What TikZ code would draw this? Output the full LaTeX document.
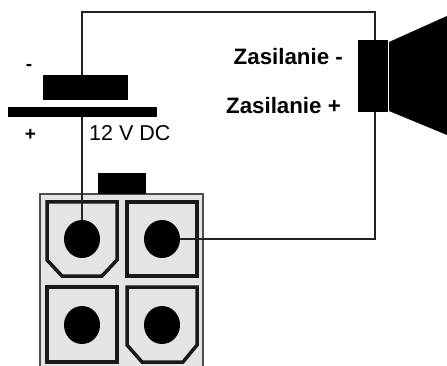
\documentclass[tikz,border=0pt]{standalone}
\usepackage{fontspec}
\setmainfont{Liberation Sans}
\usetikzlibrary{shapes.geometric}
\definecolor{housing}{HTML}{E4E4E4}
\definecolor{wirecol}{HTML}{222222}
\tikzset{
  x=1pt,y=-1pt,
  solidblock/.style={fill=black,draw=none,inner sep=0pt,outer sep=0pt,rectangle},
  pin/.style={fill=black,draw=none,inner sep=0pt,outer sep=0pt,ellipse,minimum width=36pt,minimum height=38pt},
  wire/.style={draw=wirecol,line width=1.3pt,line join=miter},
  terminal/.style={draw=black!90,line width=3.5pt,line join=miter,fill=housing},
  shell/.style={draw=wirecol!80,line width=1.5pt,fill=housing},
  signlabel/.style={font=\fontsize{19}{20}\selectfont\bfseries,inner sep=0pt,text=black},
  boldlabel/.style={font=\fontsize{22.3}{24}\selectfont\bfseries,inner sep=0pt,text=black},
  plainlabel/.style={font=\fontsize{21.5}{24}\selectfont,inner sep=0pt,text=black},
}
\begin{document}
\begin{tikzpicture}
\useasboundingbox (0,0) rectangle (447,366);
% connector housing
\draw[shell] (40,366) -- (40,194) -- (203,194) -- (203,366);
\node[solidblock,minimum width=48pt,minimum height=21pt] (tab) at (122,183.5) {};
% terminals
\draw[terminal] (47,202) -- (117,202) -- (117,260) -- (102,276) -- (62,276) -- (47,260) -- cycle;
\draw[terminal] (127,202) -- (197,202) -- (197,276) -- (127,276) -- cycle;
\draw[terminal] (47,287) -- (117,287) -- (117,362) -- (47,362) -- cycle;
\draw[terminal] (127,287) -- (197,287) -- (197,345) -- (183,362) -- (142,362) -- (127,345) -- cycle;
\node[pin] (c1) at (82,239) {};
\node[pin] (c2) at (162,239) {};
\node[pin] (c3) at (82,325) {};
\node[pin] (c4) at (162,325) {};
% battery
\node[solidblock,minimum width=85pt,minimum height=25pt] (minus) at (85.5,87.5) {};
\node[solidblock,minimum width=149pt,minimum height=10pt] (plus) at (82.5,112) {};
% speaker
\node[solidblock,minimum width=30pt,minimum height=72pt] (spk) at (373,76) {};
\fill[black] (389,42) -- (447,16) -- (447,135) -- (389,111) -- cycle;
% wires
\coordinate (tl) at (82,12);
\coordinate (tr) at (375,12);
\draw[wire] (c1 |- minus.north) -- (tl) -- (tr) -- (tr |- spk.north);
\draw[wire] (c1 |- plus.south) -- (c1);
\draw[wire] (tr |- spk.south) -- (tr |- c2) -- (c2);
% labels
\node[signlabel] (lm) at (29,67) {-};
\node[signlabel] (lp) at (30.5,135) {+};
\node[plainlabel,anchor=west] (lv) at (89,133) {12 V DC};
\node[boldlabel,anchor=east] (za) at (343,57) {Zasilanie -};
\node[boldlabel,anchor=east] (zb) at (341,106) {Zasilanie +};
\end{tikzpicture}
\end{document}
